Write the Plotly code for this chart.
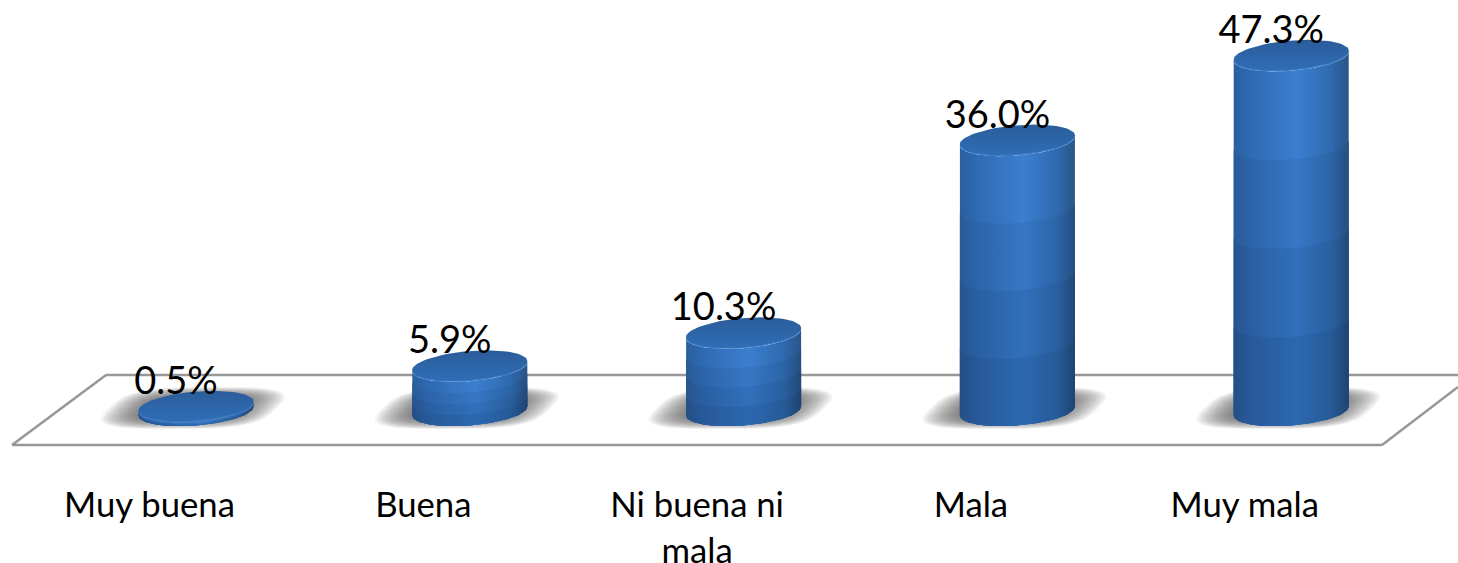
import numpy as np
import plotly.graph_objects as go

categories = ["Muy buena", "Buena", "Ni buena ni<br>mala", "Mala", "Muy mala"]
values = [0.5, 5.9, 10.3, 36.0, 47.3]
labels = ["0.5%", "5.9%", "10.3%", "36.0%", "47.3%"]

W, H = 1458, 563
AX_BOTTOM_PX = 445
PX_X = 273.8
PX_Y = 7.5
ZERO_PX = 411
X0_PX = 196

HALF_W = 57.5 / PX_X
CAP_B = 14.5 / PX_Y
CAP_TILT = 4.5 / PX_Y
LABEL_DX = -20 / PX_X
LABEL_DY = 23 / PX_Y
TICK_DX = -46.5 / PX_X
BANDS = 4
BASE = 0.0

TOP_STOPS = ["#2a5f9f", "#2f6ab2", "#3b7fd0", "#2f69ae", "#2a5486"]
BOT_STOPS = ["#244f85", "#28599a", "#2c68b0", "#275a98", "#1e4470"]
STOP_POS = [0, 0.15, 0.55, 0.85, 1]


def hex2rgb(h):
    return np.array([int(h[i:i + 2], 16) for i in (1, 3, 5)], float)


def blend(a, b, f):
    c = hex2rgb(a) * (1 - f) + hex2rgb(b) * f
    return f"rgb({c[0]:.0f},{c[1]:.0f},{c[2]:.0f})"


def arc(cx, cy, t, a=HALF_W, b=CAP_B, tilt=CAP_TILT):
    return cx + a * np.cos(t), cy + tilt * np.cos(t) - b * np.sin(t)


def shadow(cx, s):
    """Soft sheared rounded parallelogram lying on the floor, in data units."""
    t = np.linspace(0, 2 * np.pi, 80)
    p = 0.6
    hx = 84 * s * np.sign(np.cos(t)) * np.abs(np.cos(t)) ** p
    hy = 21 * s * np.sign(np.sin(t)) * np.abs(np.sin(t)) ** p
    return cx + (hx + 1.0 * hy - 3) / PX_X, (hy + 3) / PX_Y


def sized(text, px=34.7):
    return "<br>".join(f'<span style="font-size:{px}px">{p}</span>' for p in text.split("<br>"))


fig = go.Figure()
common = dict(mode="lines", line=dict(width=0), fill="toself", hoverinfo="skip", showlegend=False)

# contact shadows
SH_LAYERS = 20
for i in range(len(values)):
    for k in range(SH_LAYERS):
        x, y = shadow(i, 1 - (k / SH_LAYERS) * 0.55)
        fig.add_trace(go.Scatter(x=x, y=y, fillcolor="rgba(70,70,70,0.065)", **common))

# cylinders
for i, v in enumerate(values):
    for k in range(BANDS):
        frac = 1 - k / BANDS
        top = BASE + (v - BASE) * frac
        f = k / (BANDS - 1)
        scale = [[p, blend(a, b, f)] for p, a, b in zip(STOP_POS, TOP_STOPS, BOT_STOPS)]
        x0, y0 = arc(i, BASE, np.linspace(np.pi, 0, 50))
        x1, y1 = arc(i, top, np.linspace(0, np.pi, 50))
        fig.add_trace(go.Scatter(
            x=np.r_[x0, x1], y=np.r_[y0, y1],
            fillgradient=dict(type="horizontal", colorscale=scale), **common))
    # cap rim + face
    t = np.linspace(0, 2 * np.pi, 80)
    x, y = arc(i, v, t)
    fig.add_trace(go.Scatter(x=x, y=y, fillcolor="#3a7ac6", **common))
    x, y = arc(i, v + 1.2 / PX_Y, t)
    fig.add_trace(go.Scatter(
        x=x, y=y,
        fillgradient=dict(type="vertical",
                          colorscale=[[0, "#2f6db5"], [0.5, "#2d65a8"], [1, "#2b5c9a"]]),
        **common))

# data labels
fig.add_trace(go.Scatter(
    x=[i + LABEL_DX for i in range(len(values))],
    y=[v + LABEL_DY for v in values],
    mode="text", text=labels, textposition="middle center",
    textfont=dict(family="Lato", size=38, color="#000000"),
    hoverinfo="skip", showlegend=False, cliponaxis=False))

# floor outline
FLOOR = "#979797"
floor_lines = [(12, 445, 1382, 445), (12, 445, 106, 375), (106, 375, 1458, 375), (1382, 445, 1458, 387)]
shapes = [dict(type="line", xref="paper", yref="paper", layer="below",
               x0=a / W, x1=c / W,
               y0=(AX_BOTTOM_PX - b) / AX_BOTTOM_PX, y1=(AX_BOTTOM_PX - d) / AX_BOTTOM_PX,
               line=dict(color=FLOOR, width=2.5)) for a, b, c, d in floor_lines]

fig.update_layout(
    width=W, height=H,
    margin=dict(l=0, r=0, t=0, b=H - AX_BOTTOM_PX, pad=0),
    paper_bgcolor="white", plot_bgcolor="rgba(0,0,0,0)",
    shapes=shapes, showlegend=False,
    xaxis=dict(range=[-X0_PX / PX_X, (W - X0_PX) / PX_X],
               tickmode="array", tickvals=[i + TICK_DX for i in range(5)],
               ticktext=[sized(c) for c in categories],
               tickfont=dict(family="Lato", size=35.5, color="#000000"),
               ticks="", ticklabelstandoff=35, showgrid=False, zeroline=False, showline=False,
               fixedrange=True, tickangle=0, automargin=False),
    yaxis=dict(range=[-(AX_BOTTOM_PX - ZERO_PX) / PX_Y, ZERO_PX / PX_Y],
               visible=False, fixedrange=True, automargin=False),
)

fig.write_html("out.html", config={"displayModeBar": False},
               post_script="document.body.style.margin='0';document.body.style.overflow='hidden';")
